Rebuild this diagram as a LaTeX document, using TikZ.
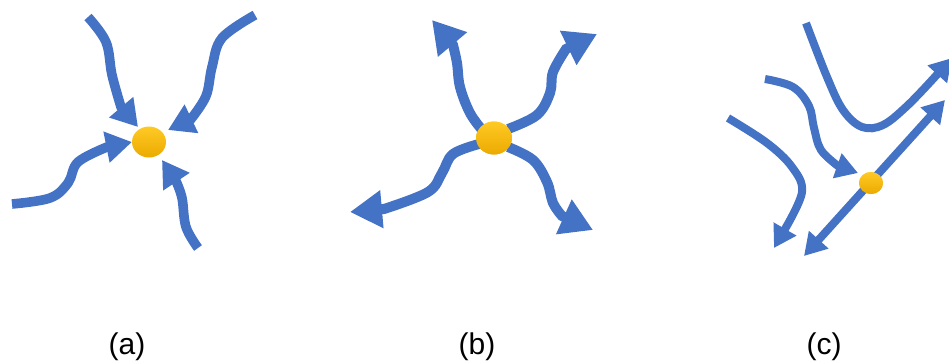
\documentclass[tikz,border=0pt]{standalone}
\usepackage{fontspec}
\setmainfont{Liberation Sans}
\usetikzlibrary{arrows.meta,shapes.geometric}
\definecolor{flow}{HTML}{4472C4}
\definecolor{dottop}{HTML}{FFC925}
\definecolor{dotbot}{HTML}{EBAA00}
\tikzset{
  flowa/.style={draw=flow, line width=4.8pt, -{Triangle[length=13pt,width=15pt]}},
  flowb/.style={draw=flow, line width=5pt, -{Triangle[length=16pt,width=18pt]}},
  flowc/.style={draw=flow, line width=4pt, -{Triangle[length=11pt,width=12.5pt]}},
  flowcc/.style={draw=flow, line width=4pt, {Triangle[length=11pt,width=12.5pt]}-{Triangle[length=11pt,width=12.5pt]}},
  fixpt/.style={ellipse, inner sep=0pt, top color=dottop, bottom color=dotbot, draw=none},
  caption/.style={font=\fontsize{15pt}{18pt}\selectfont, anchor=base, inner sep=0pt}
}
\begin{document}
\begin{tikzpicture}[x=0.5pt,y=-0.5pt]
\useasboundingbox (0,0) rectangle (949,360);
% ---------- (a) sink ----------
\node[fixpt, minimum width=17pt, minimum height=15.5pt] (da) at (149,142) {};
\coordinate (a1s) at (88,17);   \coordinate (a1e) at (138,127);
\coordinate (a2s) at (255,15);  \coordinate (a2e) at (168,130);
\coordinate (a3s) at (12,204);  \coordinate (a3e) at (132,142);
\coordinate (a4s) at (198,248); \coordinate (a4e) at (162,160);
\draw[flowa] plot[smooth, tension=0.6] coordinates {(a1s) (106,42) (112,75) (121,107)} -- (a1e);
\draw[flowa] plot[smooth, tension=0.6] coordinates {(a2s) (222,38) (212,67) (206,96) (191,119)} -- (a2e);
\draw[flowa] plot[smooth, tension=0.6] coordinates {(a3s) (50,198) (68,183) (78,162) (107,147)} -- (a3e);
\draw[flowa] plot[smooth, tension=0.6] coordinates {(a4s) (186,227) (182,198) (176,181)} -- (a4e);
% ---------- (b) source ----------
\node[fixpt, minimum width=18pt, minimum height=16.5pt] (db) at (494,138) {};
\coordinate (b1e) at (432,20);  \coordinate (b2e) at (597,34);
\coordinate (b3e) at (350,212); \coordinate (b4e) at (593,230);
\draw[flowb] plot[smooth, tension=0.6] coordinates {(483,131) (470,113) (460,87) (457,63) (453,45)} -- (b1e);
\draw[flowb] plot[smooth, tension=0.6] coordinates {(508,129) (537,115) (550,93) (553,72) (566,49)} -- (b2e);
\draw[flowb] plot[smooth, tension=0.6] coordinates {(479,144) (453,154) (442,173) (428,192) (384,209)} -- (b3e);
\draw[flowb] plot[smooth, tension=0.6] coordinates {(508,147) (533,160) (547,182) (553,203) (562,216)} -- (b4e);
\node[fixpt, minimum width=18pt, minimum height=16.5pt] at (db) {};
% ---------- (c) saddle ----------
\node[fixpt, minimum width=12pt, minimum height=11pt] (dc) at (871,183) {};
\coordinate (c1s) at (728,118); \coordinate (c1e) at (774,248);
\coordinate (c2s) at (765,79);  \coordinate (c2e) at (858,173);
\coordinate (c3s) at (806,23);  \coordinate (c3e) at (952,58);
\coordinate (c4s) at (804,256); \coordinate (c4e) at (945,100);
\draw[flowc] plot[smooth, tension=0.6] coordinates {(c1s) (767,143) (792,167) (802,192) (785,229)} -- (c1e);
\draw[flowc] plot[smooth, tension=0.6] coordinates {(c2s) (793,87) (809,106) (814,128) (821,150) (838,166)} -- (c2e);
\draw[flowc] plot[smooth, tension=0.6] coordinates {(c3s) (827,77) (843,110) (862,127) (883,125) (907,106) (933,79)} -- (c3e);
\draw[flowcc] (c4s) -- (c4e);
\node[fixpt, minimum width=12pt, minimum height=11pt] at (dc) {};
% ---------- captions ----------
\node[caption] (la) at (127,354) {(a)};
\node[caption] (lb) at (477,354) {(b)};
\node[caption] (lc) at (824,354) {(c)};
\end{tikzpicture}
\end{document}
